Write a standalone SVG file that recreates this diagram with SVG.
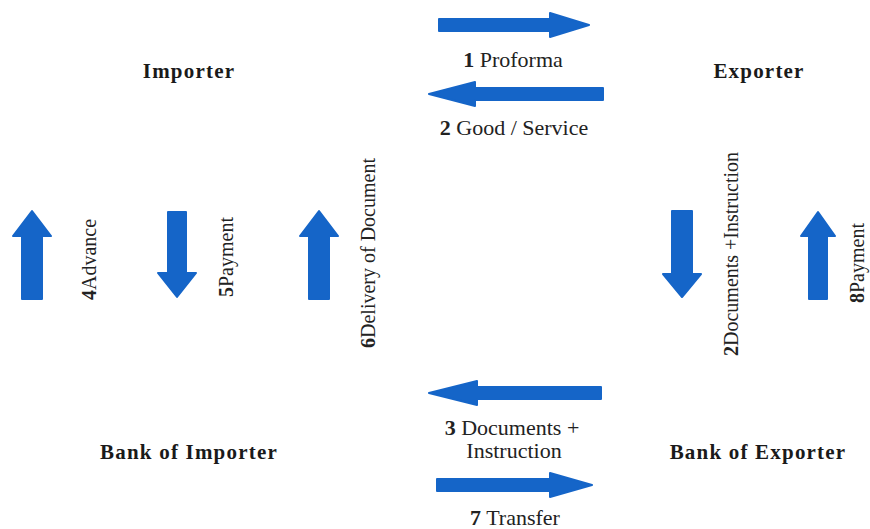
<svg xmlns="http://www.w3.org/2000/svg" width="870" height="529" viewBox="0 0 870 529">
<style>
  .node{font-family:"Liberation Serif","Times New Roman",serif;font-weight:bold;font-size:21px;letter-spacing:1.2px;fill:#1a1a1a;text-anchor:middle}
  .lbl{font-family:"Liberation Serif","Times New Roman",serif;font-size:22px;fill:#222;text-anchor:middle}
  .vlbl{font-family:"Liberation Serif","Times New Roman",serif;font-size:20px;fill:#222}
  .arrow{fill:#1565c8;stroke:#1565c8;stroke-width:2;stroke-linejoin:round}
  b,.num{font-weight:bold}
</style>
<rect width="870" height="529" fill="#ffffff"/>
<g id="importer"><text class="node" x="189" y="78">Importer</text></g>
<g id="exporter"><text class="node" x="759" y="78">Exporter</text></g>
<g id="bank-of-importer"><text class="node" x="189" y="459">Bank of Importer</text></g>
<g id="bank-of-exporter"><text class="node" x="758" y="459">Bank of Exporter</text></g>
<g id="connectors">
  <path class="arrow" d="M439,19 H550 V13 L589,25 L550,37 V31 H439 Z"/>
  <text class="lbl" x="513" y="67"><tspan class="num">1</tspan> Proforma</text>
  <path class="arrow" d="M603,88 H475 V82 L429,94 L475,106 V100 H603 Z"/>
  <text class="lbl" x="514" y="135"><tspan class="num">2</tspan> Good / Service</text>
  <path class="arrow" d="M601,387 H477 V381 L429,393 L477,405 V399 H601 Z"/>
  <text class="lbl" x="512" y="435"><tspan class="num">3</tspan> Documents +</text>
  <text class="lbl" x="514" y="458">Instruction</text>
  <path class="arrow" d="M437,479 H550 V473 L592,485 L550,497 V491 H437 Z"/>
  <text class="lbl" x="515" y="525"><tspan class="num">7</tspan> Transfer</text>
  <path class="arrow" d="M22,299 V236 H13 L32,211 L51,236 H42 V299 Z"/>
  <text class="vlbl" transform="translate(96,300) rotate(-90)"><tspan class="num">4</tspan>Advance</text>
  <path class="arrow" d="M168,212 V273 H158 L177,297 L196,273 H186 V212 Z"/>
  <text class="vlbl" transform="translate(233,297) rotate(-90)"><tspan class="num">5</tspan>Payment</text>
  <path class="arrow" d="M309,299 V236 H300 L319,211 L338,236 H329 V299 Z"/>
  <text class="vlbl" transform="translate(375,348) rotate(-90)"><tspan class="num">6</tspan>Delivery of Document</text>
  <path class="arrow" d="M672,211 V274 H663 L682,297 L701,274 H692 V211 Z"/>
  <text class="vlbl" transform="translate(738,356) rotate(-90)"><tspan class="num">2</tspan>Documents +Instruction</text>
  <path class="arrow" d="M809,299 V236 H801 L818,212 L835,236 H827 V299 Z"/>
  <text class="vlbl" transform="translate(864,303) rotate(-90)"><tspan class="num">8</tspan>Payment</text>
</g>
</svg>
